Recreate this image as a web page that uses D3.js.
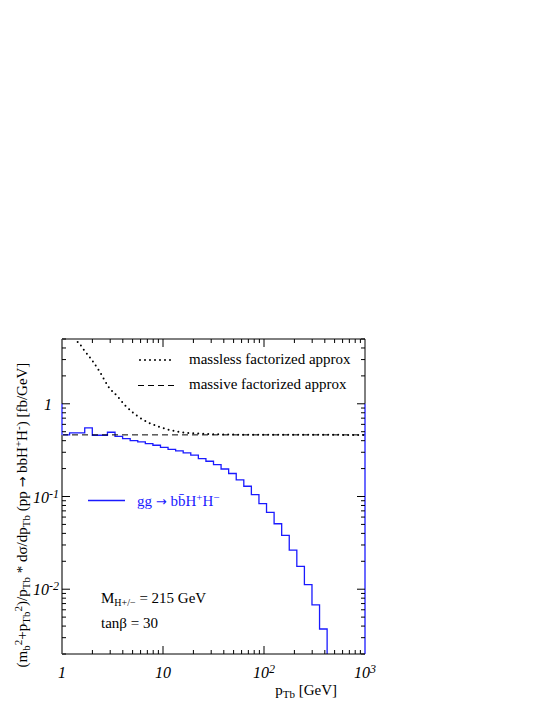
<!DOCTYPE html>
<html>
<head>
<meta charset="utf-8">
<script src="https://cdn.jsdelivr.net/npm/d3@7"></script>
<style>
  body { margin: 0; background: #fff; }
  text { font-family: "Liberation Serif", "DejaVu Serif", serif; }
</style>
</head>
<body>
<div id="chart"></div>
<script>
// histogram: 40 log bins of width 0.075 decades from pT = 1 to 1000
var binLogEdges = d3.range(0, 41).map(function(i) { return i * 0.075; });
var histValues = [0.462, 0.486, 0.486, 0.55, 0.458, 0.458, 0.493, 0.446, 0.421, 0.401,
                  0.388, 0.372, 0.357, 0.339, 0.323, 0.311, 0.295, 0.279, 0.256, 0.24,
                  0.221, 0.198, 0.177, 0.151, 0.129, 0.105, 0.0837, 0.0673, 0.0508, 0.038,
                  0.0264, 0.0176, 0.0112, 0.00676, 0.00372, 0, 0, 0, 0, 0];

// massless factorized approx (dotted)
var masslessPt  = [1.2, 1.375, 1.506, 1.65, 1.81, 1.98, 2.37, 2.93, 3.52, 4.22, 5.07, 5.67, 7.13, 9.15, 11.9, 15.2, 19.8, 26.3, 50, 100, 1000];
var masslessVal = [6.4, 4.87, 4.38, 3.80, 3.35, 2.95, 2.2, 1.49, 1.21, 0.96, 0.80, 0.73, 0.63, 0.564, 0.519, 0.493, 0.481, 0.474, 0.465, 0.463, 0.462];

// massive factorized approx (dashed)
var massivePt  = [1, 10, 100, 1000];
var massiveVal = [0.462, 0.462, 0.462, 0.462];

var xTicks = [1, 10, 100, 1000];
var yTicks = [0.01, 0.1, 1];

var margin = {top: 339, right: 180, bottom: 51, left: 62},
    width = 545 - margin.left - margin.right,
    height = 705 - margin.top - margin.bottom;

var svg = d3.select("#chart")
  .append("svg")
    .attr("width", 545)
    .attr("height", 705)
  .append("g")
    .attr("transform", "translate(" + margin.left + "," + margin.top + ")");

var x = d3.scaleLog().domain([1, 1000]).range([0, width]);
var y = d3.scaleLog().domain([0.002, 5]).range([height, 0]);

svg.append("clipPath").attr("id", "clip")
  .append("rect").attr("width", width).attr("height", height);

var plot = svg.append("g").attr("clip-path", "url(#clip)");

// helper for text with sub/superscripts
function richText(sel, parts, small) {
  small = small || "11px";
  parts.forEach(function(p) {
    var ts = sel.append("tspan").text(p.t);
    if (p.s == "sub") ts.attr("baseline-shift", "-25%").style("font-size", small);
    if (p.s == "sup") ts.attr("baseline-shift", "45%").style("font-size", small);
    if (p.s == "arrow") ts.style("font-family", "DejaVu Sans").style("font-size", "13px");
  });
  return sel;
}

// histogram
var histPts = [];
histValues.forEach(function(v, i) {
  var vv = v > 0 ? v : 1e-4;
  histPts.push([Math.pow(10, binLogEdges[i]), vv]);
  histPts.push([Math.pow(10, binLogEdges[i + 1]), vv]);
});
var line = d3.line()
  .x(function(d) { return x(d[0]); })
  .y(function(d) { return Math.min(y(d[1]), height + 5); });

plot.append("path")
  .datum(histPts)
  .attr("fill", "none")
  .attr("stroke", "#1a1aff")
  .attr("stroke-width", 1.3)
  .attr("d", line);

// dashed massive
plot.append("path")
  .datum(massivePt.map(function(p, i) { return [p, massiveVal[i]]; }))
  .attr("fill", "none")
  .attr("stroke", "#000")
  .attr("stroke-width", 1)
  .attr("stroke-dasharray", "6,4")
  .attr("d", line);

// dotted massless
plot.append("path")
  .datum(masslessPt.map(function(p, i) { return [p, masslessVal[i]]; }))
  .attr("fill", "none")
  .attr("stroke", "#000")
  .attr("stroke-width", 2)
  .attr("stroke-linecap", "round")
  .attr("stroke-dasharray", "0,5")
  .attr("d", d3.line().curve(d3.curveMonotoneX)
    .x(function(d) { return x(d[0]); })
    .y(function(d) { return y(d[1]); }));

// frame
svg.append("line").attr("x1", 0).attr("x2", width).attr("y1", 0).attr("y2", 0).attr("stroke", "#000");
svg.append("line").attr("x1", 0).attr("x2", width).attr("y1", height).attr("y2", height).attr("stroke", "#000");
svg.append("line").attr("x1", 0).attr("x2", 0).attr("y1", 0).attr("y2", height).attr("stroke", "#777").attr("stroke-width", 2);
svg.append("line").attr("x1", width).attr("x2", width).attr("y1", 0).attr("y2", y(1)).attr("stroke", "#000");
svg.append("line").attr("x1", width).attr("x2", width).attr("y1", y(1)).attr("y2", height).attr("stroke", "#1a1aff").attr("stroke-width", 1.3);
svg.append("line").attr("x1", 0).attr("x2", 0).attr("y1", y(1)).attr("y2", y(histValues[0])).attr("stroke", "#6a6aff").attr("stroke-width", 2);

// ticks
var xMinor = [];
[1, 10, 100].forEach(function(d) { d3.range(2, 10).forEach(function(k) { xMinor.push(d * k); }); });
var yMinor = [];
[0.001, 0.01, 0.1, 1].forEach(function(d) {
  d3.range(2, 10).forEach(function(k) { var v = d * k; if (v >= 0.002 && v <= 5) yMinor.push(v); });
});

function xt(vals, len) {
  vals.forEach(function(v) {
    svg.append("line").attr("x1", x(v)).attr("x2", x(v)).attr("y1", height).attr("y2", height - len).attr("stroke", "#000");
    svg.append("line").attr("x1", x(v)).attr("x2", x(v)).attr("y1", 0).attr("y2", len).attr("stroke", "#000");
  });
}
function yt(vals, len) {
  vals.forEach(function(v) {
    svg.append("line").attr("x1", 0).attr("x2", len).attr("y1", y(v)).attr("y2", y(v)).attr("stroke", "#000");
    svg.append("line").attr("x1", width).attr("x2", width - len).attr("y1", y(v)).attr("y2", y(v)).attr("stroke", "#000");
  });
}
xt(xMinor, 4);
xt(xTicks.slice(1, 3), 8);
yt(yMinor, 4);
yt(yTicks, 8);

// tick labels
var tickFont = "16px";
xTicks.forEach(function(v, i) {
  var t = svg.append("text")
    .attr("x", x(v))
    .attr("y", height + 24)
    .attr("text-anchor", "middle")
    .style("font-style", "italic")
    .style("font-size", tickFont);
  if (i == 0) t.text("1");
  else if (i == 1) t.text("10");
  else richText(t, [{t: "10"}, {t: String(i), s: "sup"}], "12px");
});
yTicks.forEach(function(v) {
  var t = svg.append("text")
    .attr("y", y(v) + 6)
    .style("font-style", "italic")
    .style("font-size", tickFont);
  if (v == 1) t.attr("x", -10).attr("text-anchor", "end").text("1");
  else richText(t.attr("x", -29), [{t: "10"}, {t: v == 0.1 ? "-1" : "-2", s: "sup"}], "12px");
});

// axis titles
richText(svg.append("text")
  .attr("x", width - 28)
  .attr("y", height + 41)
  .attr("text-anchor", "end")
  .style("font-size", "15px"),
  [{t: "p"}, {t: "Tb", s: "sub"}, {t: " [GeV]"}]);

richText(svg.append("text")
  .attr("transform", "rotate(-90)")
  .attr("x", -(515 - margin.top))
  .attr("y", -35)
  .attr("text-anchor", "middle")
  .style("font-size", "15px"),
  [{t: "(m"}, {t: "b", s: "sub"}, {t: "2", s: "sup"}, {t: "+p"}, {t: "Tb", s: "sub"}, {t: "2", s: "sup"},
   {t: ")/p"}, {t: "Tb", s: "sub"}, {t: " * dσ/dp"}, {t: "Tb", s: "sub"},
   {t: " (pp "}, {t: "→", s: "arrow"}, {t: " bbH"}, {t: "+", s: "sup"}, {t: "H"}, {t: "-", s: "sup"}, {t: ") [fb/GeV]"}]);

// legend
svg.append("line").attr("x1", 78).attr("x2", 111).attr("y1", 21).attr("y2", 21)
  .attr("stroke", "#000").attr("stroke-width", 2).attr("stroke-linecap", "round").attr("stroke-dasharray", "0,5");
svg.append("text").attr("x", 127).attr("y", 25).style("font-size", "15px").text("massless factorized approx");
svg.append("line").attr("x1", 76).attr("x2", 115).attr("y1", 46.5).attr("y2", 46.5)
  .attr("stroke", "#000").attr("stroke-dasharray", "6,4");
svg.append("text").attr("x", 127).attr("y", 50).style("font-size", "15px").text("massive factorized approx");

svg.append("line").attr("x1", 26).attr("x2", 63).attr("y1", 161.5).attr("y2", 161.5)
  .attr("stroke", "#1a1aff").attr("stroke-width", 1.3);
richText(svg.append("text").attr("x", 75).attr("y", 167).style("font-size", "15px").attr("fill", "#1a1aff"),
  [{t: "gg "}, {t: "→", s: "arrow"}, {t: " b"}, {t: "b\u0304"}, {t: "H"}, {t: "+", s: "sup"}, {t: "H"}, {t: "−", s: "sup"}]);

// annotations
richText(svg.append("text").attr("x", 39).attr("y", 264).style("font-size", "15px"),
  [{t: "M"}, {t: "H+/−", s: "sub"}, {t: " = 215 GeV"}], "10px");
svg.append("text").attr("x", 39).attr("y", 289).style("font-size", "15px").text("tanβ = 30");
</script>
</body>
</html>
